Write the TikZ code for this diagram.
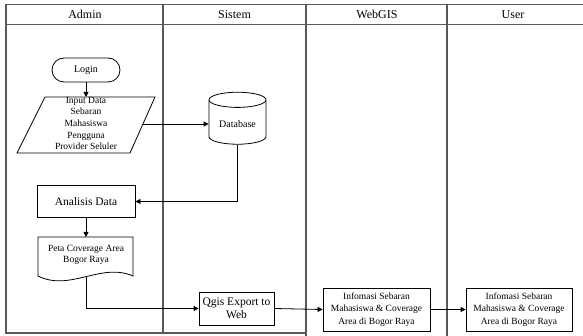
\documentclass[tikz,border=0pt]{standalone}
\usepackage{fontspec}
\setmainfont{Liberation Serif}
\usetikzlibrary{arrows.meta,shapes.geometric}
\begin{document}
\begin{tikzpicture}[x=1pt,y=-1pt,
  lane/.style={draw=black!65,line width=1.2pt},
  box/.style={draw,line width=0.8pt,align=center,inner sep=1pt},
  arr/.style={-{Triangle[length=5pt,width=5pt]},line width=0.8pt},
  hdr/.style={font=\fontsize{12}{14}\selectfont},
  small/.style={font=\fontsize{9.5}{11.7}\selectfont,align=center},
  mid/.style={font=\fontsize{11.5}{13.5}\selectfont}]
\useasboundingbox (0,0) rectangle (583,336);
% lanes
\draw[lane] (583,4.5) -- (6,4.5) -- (6,333) -- (306,333);
\draw[lane] (6,24.5) -- (583,24.5);
\draw[lane] (163,4.5) -- (163,333);
\draw[lane] (306,4.5) -- (306,336);
\draw[lane] (447,4.5) -- (447,336);
\node[hdr] (hAdmin) at (85,14.5) {Admin};
\node[hdr] (hSistem) at (234.5,14.5) {Sistem};
\node[hdr] (hWeb) at (377,14.5) {WebGIS};
\node[hdr] (hUser) at (513,14.5) {User};
% login
\node[box,rounded corners=12pt,minimum width=68pt,minimum height=24pt,font=\fontsize{10}{12}\selectfont] (login) at (86,70) {Login};
% input parallelogram
\draw[line width=0.8pt] (45,97) -- (155,97) -- (130,153) -- (17,153) -- cycle;
\coordinate (inTop) at (86,97);
\coordinate (inE) at (142.5,124);
\node[small,inner sep=0pt] (input) at (86,123.5) {Input Data\\Sebaran\\Mahasiswa\\Pengguna\\Provider Seluler};
% database
\node[cylinder,shape border rotate=90,draw,line width=0.8pt,aspect=0.35,minimum width=57pt,minimum height=52pt,font=\fontsize{10}{12}\selectfont] (db) at (237.5,124) {Database};
% analisis
\node[box,mid,minimum width=98pt,minimum height=32pt] (ana) at (86,201.5) {Analisis Data};
% document
\draw[line width=0.8pt] (38,237) -- (133,237) -- (133,276) .. controls (101,262) and (70,292) .. (38,276) -- cycle;
\coordinate (docTop) at (86,237);
\coordinate (docBot) at (86,277);
\node[small,inner sep=0pt] (doc) at (86,255) {Peta Coverage Area\\Bogor Raya};
% qgis
\node[box,mid,minimum width=75pt,minimum height=33pt,align=center,font=\fontsize{11.5}{13}\selectfont] (qgis) at (236.5,308.5) {Qgis Export to\\Web};
% info boxes
\node[box,minimum width=107pt,minimum height=43pt,font=\fontsize{9.5}{12.3}\selectfont] (info1) at (376.5,309.5) {Infomasi Sebaran\\Mahasiswa \& Coverage\\Area di Bogor Raya};
\node[box,minimum width=106pt,minimum height=43pt,font=\fontsize{9.5}{12.3}\selectfont] (info2) at (519,309.5) {Infomasi Sebaran\\Mahasiswa \& Coverage\\Area di Bogor Raya};
% connectors
\draw[arr] (login.south) -- (inTop);
\draw[arr] (inE) -- (inE -| db.west);
\draw[arr] (db.south) |- (ana.east);
\draw[arr] (ana.south) -- (docTop);
\draw[arr] (docBot) |- (qgis.west);
\draw[arr] (qgis.east) -- (info1.west);
\draw[arr] (info1.east) -- (info2.west);
\end{tikzpicture}
\end{document}
